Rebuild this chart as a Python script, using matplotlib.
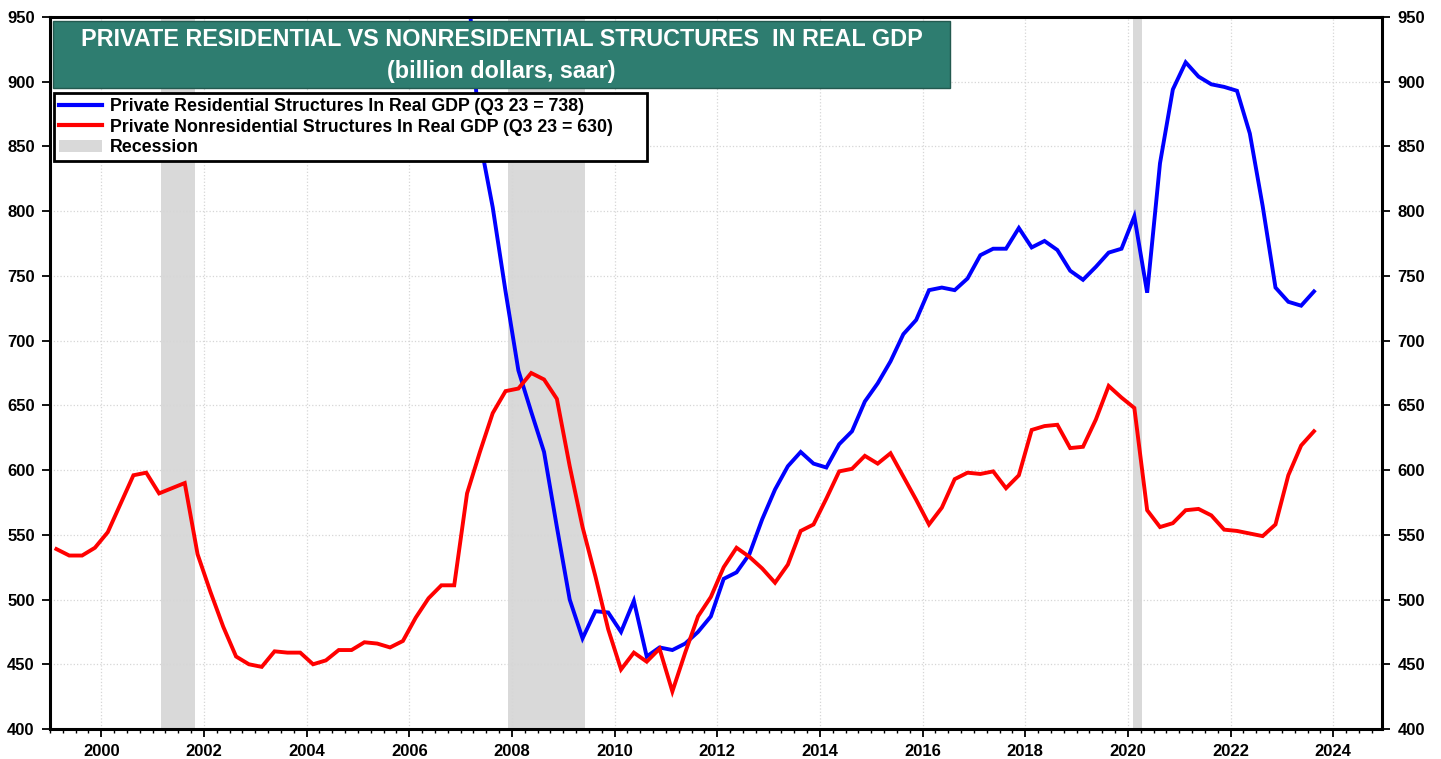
"""
Private residential vs nonresidential structures in real GDP
"""
import matplotlib.pyplot as plt
import numpy as np
from matplotlib.patches import Rectangle, Patch
from matplotlib.lines import Line2D
from matplotlib.ticker import MultipleLocator

# quarterly data, 1999 Q1 .. 2023 Q3 (billion dollars, saar)
first_year = 1999
residential = [
    960, 965, 970, 975,        # 1999 (above chart range)
    980, 975, 970, 972,        # 2000
    975, 985, 995, 1000,       # 2001
    1005, 1015, 1025, 1040,    # 2002
    1050, 1070, 1100, 1125,    # 2003
    1140, 1160, 1170, 1180,    # 2004
    1195, 1210, 1225, 1230,    # 2005
    1215, 1170, 1105, 1040,    # 2006
    985, 855, 803, 738,        # 2007
    677, 645, 614, 556,        # 2008
    500, 470, 491, 490,        # 2009
    475, 499, 456, 463,        # 2010
    461, 466, 475, 487,        # 2011
    516, 521, 535, 562,        # 2012
    585, 603, 614, 605,        # 2013
    602, 620, 630, 653,        # 2014
    667, 684, 705, 716,        # 2015
    739, 741, 739, 748,        # 2016
    766, 771, 771, 787,        # 2017
    772, 777, 770, 754,        # 2018
    747, 757, 768, 771,        # 2019
    796, 737, 837, 894,        # 2020
    915, 904, 898, 896,        # 2021
    893, 860, 804, 741,        # 2022
    730, 727, 738,             # 2023
]
nonresidential = [
    539, 534, 534, 540,        # 1999
    552, 574, 596, 598,        # 2000
    582, 586, 590, 535,        # 2001
    506, 479, 456, 450,        # 2002
    448, 460, 459, 459,        # 2003
    450, 453, 461, 461,        # 2004
    467, 466, 463, 468,        # 2005
    486, 501, 511, 511,        # 2006
    582, 614, 644, 661,        # 2007
    663, 675, 670, 655,        # 2008
    603, 556, 518, 477,        # 2009
    446, 459, 452, 462,        # 2010
    429, 459, 487, 502,        # 2011
    525, 540, 533, 524,        # 2012
    513, 527, 553, 558,        # 2013
    578, 599, 601, 611,        # 2014
    605, 613, 595, 577,        # 2015
    558, 571, 593, 598,        # 2016
    597, 599, 586, 596,        # 2017
    631, 634, 635, 617,        # 2018
    618, 639, 665, 656,        # 2019
    648, 569, 556, 559,        # 2020
    569, 570, 565, 554,        # 2021
    553, 551, 549, 558,        # 2022
    596, 619, 630,             # 2023
]
# recession periods (decimal years)
recessions = [(2001.17, 2001.83), (2007.92, 2009.42), (2020.10, 2020.27)]

title_line1 = "PRIVATE RESIDENTIAL VS NONRESIDENTIAL STRUCTURES  IN REAL GDP"
title_line2 = "(billion dollars, saar)"
label_res = "Private Residential Structures In Real GDP (Q3 23 = 738)"
label_nonres = "Private Nonresidential Structures In Real GDP (Q3 23 = 630)"

plt.rcParams['font.family'] = ['Liberation Sans', 'DejaVu Sans']
plt.rcParams['font.weight'] = 'bold'

# x positions at quarter midpoints
t = first_year + 0.125 + 0.25 * np.arange(len(residential))

fig = plt.figure(figsize=(14.41, 7.59), dpi=100)
ax = fig.add_axes([50 / 1441, 30 / 759, 1332 / 1441, 712 / 759])

# recession shading
for start, end in recessions:
    ax.axvspan(start, end, color='#d9d9d9', lw=0, zorder=1)

ax.plot(t, residential, color='#0000ff', lw=2.8, zorder=3,
        solid_joinstyle='miter')
ax.plot(t, nonresidential, color='#ff0000', lw=2.8, zorder=3,
        solid_joinstyle='miter')

ax.set_xlim(1999.0, 2024.95)
ax.set_ylim(400, 950)

# ticks and grid
ax.xaxis.set_major_locator(MultipleLocator(2))
ax.xaxis.set_minor_locator(MultipleLocator(0.25))
ax.yaxis.set_major_locator(MultipleLocator(50))
ax.tick_params(axis='x', which='major', length=6, width=1.3, pad=5,
               labelsize=12)
ax.tick_params(axis='x', which='minor', length=3, width=1.0)
ax.tick_params(axis='y', which='major', length=6, width=1.3, pad=5,
               labelsize=12, left=True, right=True, labelright=True)
ax.grid(True, which='major', color='#d6d6d6', ls=':', lw=0.9, zorder=2)
ax.set_axisbelow(False)
for s in ax.spines.values():
    s.set_linewidth(2.2)
    s.set_zorder(6)

# title box
ax.add_patch(Rectangle((0.0023, 0.9003), 0.6734, 0.0941,
                       transform=ax.transAxes, facecolor='#2e7d70',
                       edgecolor='#23594f', lw=1, zorder=5, clip_on=False))
mid = 0.0023 + 0.6734 / 2
ax.text(mid, 0.969, title_line1, transform=ax.transAxes, ha='center',
        va='center', color='white', fontsize=16.8, fontweight='bold', zorder=7)
ax.text(mid, 0.924, title_line2, transform=ax.transAxes, ha='center',
        va='center', color='white', fontsize=16.8, fontweight='bold', zorder=7)

# legend
handles = [Line2D([], [], color='#0000ff', lw=3),
           Line2D([], [], color='#ff0000', lw=3),
           Patch(facecolor='#d9d9d9', edgecolor='none')]
labels = [label_res, label_nonres, "Recession"]
leg = ax.legend(handles, labels, loc='upper left', mode='expand',
                bbox_to_anchor=(0.003, 0.8937 - 0.0948, 0.4455, 0.0948),
                prop={'weight': 'bold', 'size': 12.8},
                handlelength=2.4, handletextpad=0.45, labelspacing=0.2,
                borderpad=0.3, borderaxespad=0, fancybox=False,
                framealpha=1, edgecolor='black')
leg.get_frame().set_linewidth(2)
leg.set_zorder(8)

fig.savefig('out.png', dpi=100)
